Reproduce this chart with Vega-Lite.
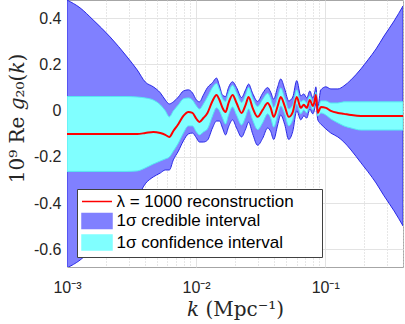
{
"$schema": "https://vega.github.io/schema/vega-lite/v6.json",
"width": 336, "height": 267,
"autosize": {"type": "none"},
"padding": {"left": 67, "top": 0, "right": 2, "bottom": 57},
"background": "white",
"config": {"view": {"stroke": "#a6a6a6"}, "font": "Liberation Sans",
 "legend": {"orient": "bottom-left", "offset": 10, "padding": 4,
    "strokeColor": "#404040", "fillColor": "white",
    "labelFont": "Liberation Sans", "labelFontSize": 17, "labelColor": "#000000", "labelLimit": 400,
    "symbolSize": 225, "symbolOffset": 7.5, "labelOffset": 11, "rowPadding": 0.5,
    "titleOrient": "right", "titlePadding": 24, "titleFontSize": 11,
    "symbolType": "M-2,-1L2,-1L2,1L-2,1Z", "symbolStrokeWidth": 1.5, "symbolOpacity": 1}},
"datasets": {
 "curve": [
{"k":0.001,"mid":-0.101,"clo":-0.263,"chi":0.061,"blo":-0.681,"bhi":0.479},
{"k":0.001262,"mid":-0.101,"clo":-0.263,"chi":0.061,"blo":-0.647,"bhi":0.445},
{"k":0.001592,"mid":-0.101,"clo":-0.263,"chi":0.061,"blo":-0.595,"bhi":0.393},
{"k":0.002158,"mid":-0.101,"clo":-0.263,"chi":0.061,"blo":-0.521,"bhi":0.319},
{"k":0.002926,"mid":-0.101,"clo":-0.263,"chi":0.061,"blo":-0.434,"bhi":0.232},
{"k":0.003499,"mid":-0.101,"clo":-0.261,"chi":0.059,"blo":-0.378,"bhi":0.176},
{"k":0.004036,"mid":-0.097,"clo":-0.248,"chi":0.055,"blo":-0.317,"bhi":0.124},
{"k":0.004659,"mid":-0.092,"clo":-0.231,"chi":0.046,"blo":-0.287,"bhi":0.103},
{"k":0.00528,"mid":-0.097,"clo":-0.218,"chi":0.025,"blo":-0.270,"bhi":0.077},
{"k":0.005773,"mid":-0.105,"clo":-0.209,"chi":-0.001,"blo":-0.257,"bhi":0.046},
{"k":0.006201,"mid":-0.114,"clo":-0.201,"chi":-0.027,"blo":-0.257,"bhi":0.029},
{"k":0.006662,"mid":-0.088,"clo":-0.175,"chi":-0.001,"blo":-0.213,"bhi":0.038},
{"k":0.007288,"mid":-0.058,"clo":-0.140,"chi":0.025,"blo":-0.175,"bhi":0.059},
{"k":0.007964,"mid":-0.023,"clo":-0.097,"chi":0.051,"blo":-0.131,"bhi":0.085},
{"k":0.008712,"mid":-0.006,"clo":-0.066,"chi":0.055,"blo":-0.101,"bhi":0.090},
{"k":0.009361,"mid":-0.010,"clo":-0.066,"chi":0.046,"blo":-0.097,"bhi":0.077},
{"k":0.010053,"mid":-0.036,"clo":-0.092,"chi":0.020,"blo":-0.118,"bhi":0.046},
{"k":0.01061,"mid":-0.049,"clo":-0.105,"chi":0.007,"blo":-0.136,"bhi":0.038},
{"k":0.01139,"mid":-0.032,"clo":-0.092,"chi":0.029,"blo":-0.136,"bhi":0.068},
{"k":0.01224,"mid":-0.010,"clo":-0.079,"chi":0.059,"blo":-0.128,"bhi":0.100},
{"k":0.01339,"mid":0.042,"clo":-0.023,"chi":0.100,"blo":-0.075,"bhi":0.121},
{"k":0.01438,"mid":0.068,"clo":0.012,"chi":0.118,"blo":-0.045,"bhi":0.141},
{"k":0.01517,"mid":0.046,"clo":-0.001,"chi":0.090,"blo":-0.045,"bhi":0.107},
{"k":0.01601,"mid":0.012,"clo":-0.032,"chi":0.052,"blo":-0.075,"bhi":0.067},
{"k":0.0169,"mid":-0.006,"clo":-0.058,"chi":0.040,"blo":-0.105,"bhi":0.061},
{"k":0.01782,"mid":0.033,"clo":-0.019,"chi":0.078,"blo":-0.070,"bhi":0.100},
{"k":0.01915,"mid":0.068,"clo":0.016,"chi":0.110,"blo":-0.040,"bhi":0.125},
{"k":0.02056,"mid":0.033,"clo":-0.019,"chi":0.078,"blo":-0.075,"bhi":0.100},
{"k":0.02249,"mid":-0.010,"clo":-0.062,"chi":0.035,"blo":-0.114,"bhi":0.057},
{"k":0.02416,"mid":0.025,"clo":-0.027,"chi":0.068,"blo":-0.080,"bhi":0.090},
{"k":0.02549,"mid":0.059,"clo":0.007,"chi":0.100,"blo":-0.050,"bhi":0.115},
{"k":0.02738,"mid":0.012,"clo":-0.040,"chi":0.055,"blo":-0.100,"bhi":0.075},
{"k":0.02994,"mid":-0.027,"clo":-0.082,"chi":0.018,"blo":-0.150,"bhi":0.040},
{"k":0.03274,"mid":0.003,"clo":-0.052,"chi":0.048,"blo":-0.120,"bhi":0.075},
{"k":0.03581,"mid":0.033,"clo":-0.014,"chi":0.075,"blo":-0.075,"bhi":0.100},
{"k":0.03778,"mid":0.012,"clo":-0.032,"chi":0.052,"blo":-0.090,"bhi":0.080},
{"k":0.03987,"mid":-0.027,"clo":-0.071,"chi":0.014,"blo":-0.125,"bhi":0.050},
{"k":0.04281,"mid":0.020,"clo":-0.019,"chi":0.059,"blo":-0.062,"bhi":0.103},
{"k":0.04519,"mid":0.059,"clo":0.020,"chi":0.098,"blo":-0.019,"bhi":0.137},
{"k":0.04853,"mid":0.020,"clo":-0.014,"chi":0.055,"blo":-0.060,"bhi":0.094},
{"k":0.05214,"mid":-0.027,"clo":-0.066,"chi":0.007,"blo":-0.125,"bhi":0.042},
{"k":0.05601,"mid":-0.006,"clo":-0.038,"chi":0.025,"blo":-0.090,"bhi":0.059},
{"k":0.06015,"mid":0.059,"clo":0.029,"chi":0.090,"blo":-0.001,"bhi":0.130},
{"k":0.06462,"mid":0.012,"clo":-0.014,"chi":0.038,"blo":-0.040,"bhi":0.064},
{"k":0.06818,"mid":0.025,"clo":0.003,"chi":0.046,"blo":-0.023,"bhi":0.072},
{"k":0.07195,"mid":0.012,"clo":-0.010,"chi":0.033,"blo":-0.032,"bhi":0.055},
{"k":0.07594,"mid":0.046,"clo":0.029,"chi":0.064,"blo":0.007,"bhi":0.085},
{"k":0.08012,"mid":0.020,"clo":0.003,"chi":0.038,"blo":-0.014,"bhi":0.055},
{"k":0.08305,"mid":0.046,"clo":0.033,"chi":0.059,"blo":0.012,"bhi":0.081},
{"k":0.08453,"mid":0.068,"clo":0.055,"chi":0.081,"blo":0.033,"bhi":0.103},
{"k":0.08758,"mid":-0.010,"clo":-0.023,"chi":0.003,"blo":-0.040,"bhi":0.020},
{"k":0.09245,"mid":0.016,"clo":-0.010,"chi":0.042,"blo":-0.058,"bhi":0.090},
{"k":0.1011,"mid":0.012,"clo":-0.019,"chi":0.042,"blo":-0.079,"bhi":0.103},
{"k":0.1105,"mid":-0.001,"clo":-0.036,"chi":0.033,"blo":-0.097,"bhi":0.094},
{"k":0.1253,"mid":-0.010,"clo":-0.053,"chi":0.033,"blo":-0.114,"bhi":0.094},
{"k":0.1395,"mid":-0.014,"clo":-0.066,"chi":0.038,"blo":-0.136,"bhi":0.107},
{"k":0.1581,"mid":-0.019,"clo":-0.075,"chi":0.038,"blo":-0.170,"bhi":0.133},
{"k":0.1891,"mid":-0.023,"clo":-0.084,"chi":0.038,"blo":-0.226,"bhi":0.181},
{"k":0.2143,"mid":-0.023,"clo":-0.084,"chi":0.038,"blo":-0.265,"bhi":0.220},
{"k":0.2473,"mid":-0.023,"clo":-0.084,"chi":0.038,"blo":-0.313,"bhi":0.267},
{"k":0.2853,"mid":-0.023,"clo":-0.084,"chi":0.038,"blo":-0.369,"bhi":0.323},
{"k":0.3412,"mid":-0.023,"clo":-0.084,"chi":0.038,"blo":-0.434,"bhi":0.388},
{"k":0.4,"mid":-0.023,"clo":-0.084,"chi":0.038,"blo":-0.499,"bhi":0.453}
 ],
 "none": []
},
"data": {"name": "curve"},
"layer": [
{"data": {"name": "none"},
 "mark": {"type": "point"},
 "encoding": {
  "color": {"field": "series", "type": "nominal",
   "scale": {"domain": ["λ = 1000 reconstruction", "1σ credible interval", "1σ confidence interval"], "range": ["#ff0000", "#8080ff", "#80ffff"]},
   "legend": {"title": " ", "titleOrient": "right", "titlePadding": 24}},
  "shape": {"field": "series", "type": "nominal",
   "scale": {"domain": ["λ = 1000 reconstruction", "1σ credible interval", "1σ confidence interval"], "range": ["M-2,0L2,0", "M-2,-1L2,-1L2,1L-2,1Z", "M-2,-1L2,-1L2,1L-2,1Z"]},
   "legend": {"title": " ", "titleOrient": "right", "titlePadding": 24}}
 }},
{"mark": {"type": "area", "stroke": "#2a2ae6", "strokeWidth": 1, "clip": true, "interpolate": "monotone"},
 "encoding": {
  "x": {"field": "k", "type": "quantitative",
   "scale": {"type": "log", "domain": [0.001, 0.4], "nice": false},
   "axis": {"values": [0.001,0.002,0.003,0.004,0.005,0.006,0.007,0.008,0.009,0.01,0.02,0.03,0.04,0.05,0.06,0.07,0.08,0.09,0.1,0.2,0.3,0.4],
    "labelExpr": "datum.value == 0.001 ? '10⁻³' : datum.value == 0.01 ? '10⁻²' : datum.value == 0.1 ? '10⁻¹' : ''",
    "grid": true,
    "gridColor": {"condition": {"test": "datum.value == 0.001 || datum.value == 0.01 || datum.value == 0.1", "value": "#e3e3e3"}, "value": "#cfcfcf"},
    "gridDash": {"condition": {"test": "datum.value == 0.001 || datum.value == 0.01 || datum.value == 0.1", "value": []}, "value": [1, 2]},
    "ticks": false, "domain": false, "labelFlush": false, "labelOverlap": false,
    "labelFontSize": 16, "labelColor": "#262626", "labelPadding": 12,
    "title": "𝑘 (Mpc⁻¹)", "titleFont": "DejaVu Serif", "titleFontSize": 20, "titleFontWeight": "normal", "titleColor": "#262626",
    "titleY": 48, "titleBaseline": "alphabetic"}},
  "y": {"field": "blo", "type": "quantitative",
   "scale": {"domain": [-0.677, 0.479], "nice": false, "zero": false},
   "axis": {"values": [-0.6,-0.4,-0.2,0,0.2,0.4], "labelExpr": "toString(datum.value)",
    "grid": true, "gridColor": "#e3e3e3", "ticks": false, "domain": false,
    "labelFontSize": 16, "labelColor": "#262626", "labelPadding": 6,
    "title": "10⁹ Re 𝑔₂₀(𝑘)", "titleFont": "DejaVu Serif", "titleFontSize": 20, "titleFontWeight": "normal", "titleColor": "#262626",
    "titleX": -44, "titleY": 118, "titleAngle": -90, "titleBaseline": "alphabetic", "titleAlign": "center"}},
  "y2": {"field": "bhi"},
  "color": {"datum": "1σ credible interval"}
 }},
{"mark": {"type": "area", "stroke": "#55e8f0", "strokeWidth": 1, "clip": true, "interpolate": "monotone"},
 "encoding": {
  "x": {"field": "k", "type": "quantitative"},
  "y": {"field": "clo", "type": "quantitative"},
  "y2": {"field": "chi"},
  "color": {"datum": "1σ confidence interval"}
 }},
{"mark": {"type": "line", "strokeWidth": 2, "clip": true, "interpolate": "monotone"},
 "encoding": {
  "x": {"field": "k", "type": "quantitative"},
  "y": {"field": "mid", "type": "quantitative"},
  "color": {"datum": "λ = 1000 reconstruction"}
 }}
]
}
